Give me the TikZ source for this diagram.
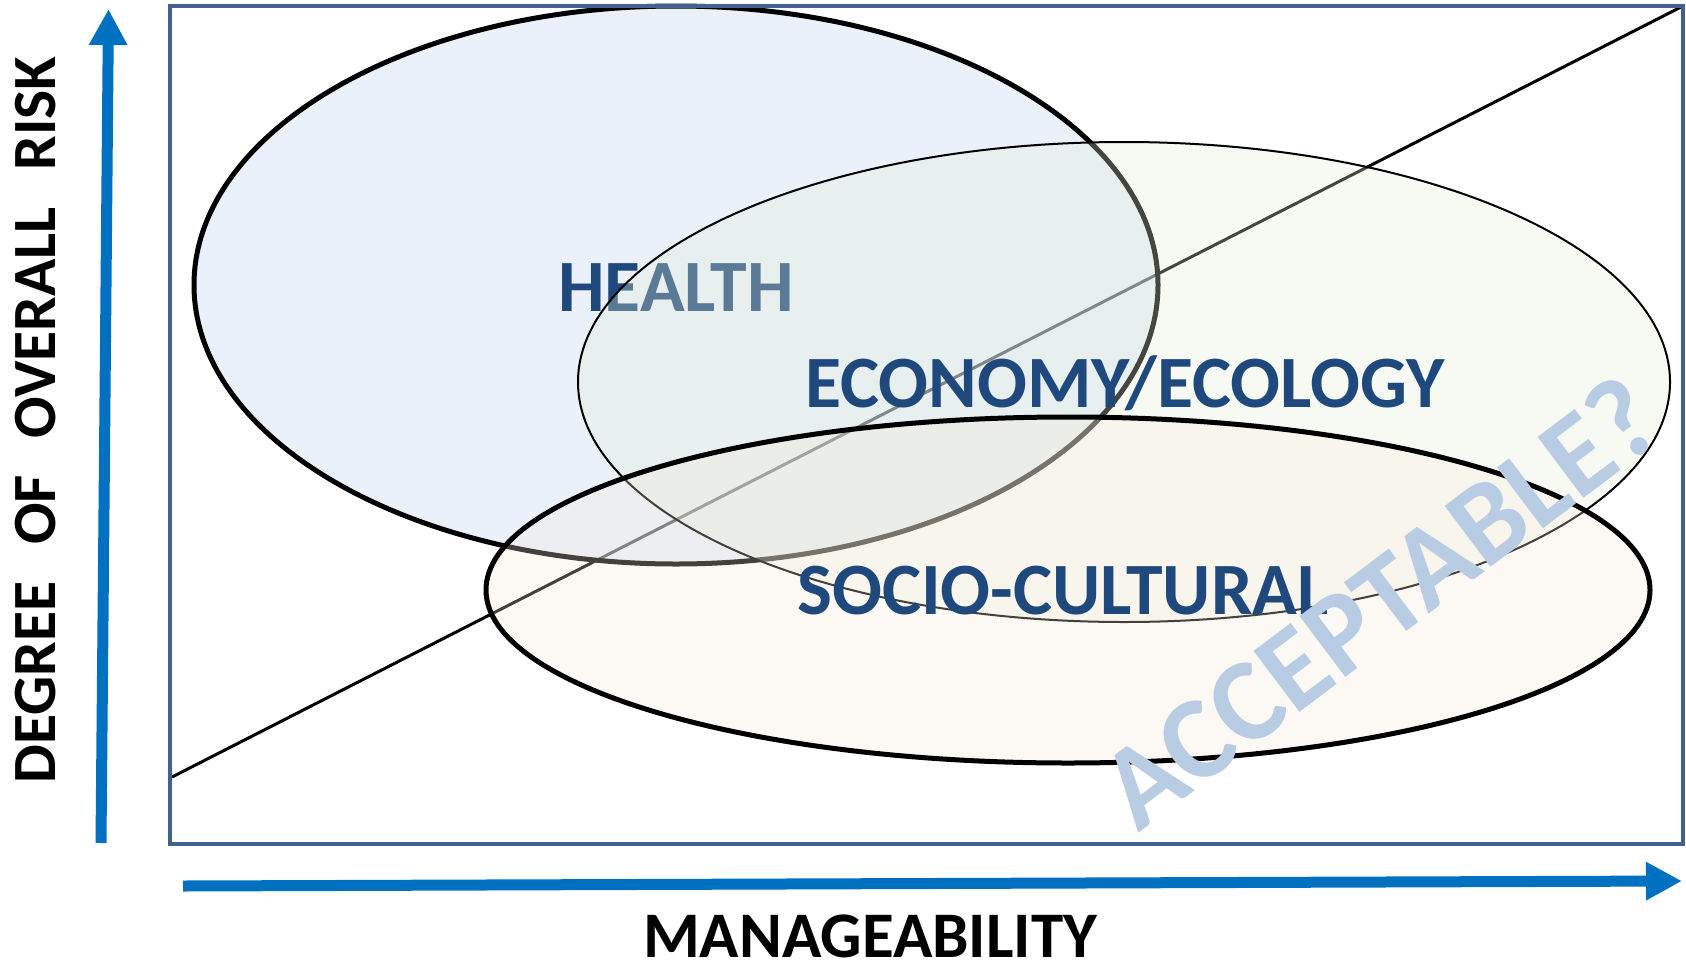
\documentclass[tikz,border=0pt]{standalone}
\usepackage{fontspec}
\setmainfont{Carlito}
\usepackage{tikz}
\usetikzlibrary{arrows.meta}
\definecolor{riskblue}{RGB}{0,112,192}
\definecolor{framecol}{RGB}{63,98,143}
\definecolor{labelblue}{RGB}{31,73,125}
\definecolor{acceptcol}{RGB}{184,204,228}
\definecolor{healthfill}{RGB}{205,222,243}
\definecolor{ecofill}{RGB}{228,238,215}
\definecolor{sociofill}{RGB}{246,232,218}
\tikzset{
	axisarrow/.style={line width=1.1mm, color=riskblue, -{Triangle[length=3.6mm,width=3.6mm]}},
	region/.style={font=\bfseries\fontsize{21}{25}\selectfont, text=labelblue, inner sep=0pt}
}
\begin{document}
\begin{tikzpicture}
		%%%%% START %%%%%
		\useasboundingbox (0, 0) rectangle (16.86, 9.66);
		
		% diagonal first, the regions lie over it
		\draw[line width=0.3mm, color=black] (1.72, 1.89) -- (16.81, 9.59);
		
		\draw[line width=0.5mm, fill=healthfill, fill opacity=0.42] (6.76, 6.81) ellipse (4.82 and 2.79);
		\node[region] (health) at (6.76, 6.78) {HEALTH};
		
		\draw[line width=0.2mm, fill=ecofill, fill opacity=0.3] (11.24, 5.84) ellipse (5.46 and 2.40);
		\draw[line width=0.5mm, fill=sociofill, fill opacity=0.28] (10.68, 3.76) ellipse (5.82 and 1.73);
		
		\node[region] (economy) at (11.25, 5.83) {ECONOMY/ECOLOGY};
		\node[region] (socio) at (10.63, 3.75) {SOCIO-CULTURAL};
		
		\node[rotate=37, text=acceptcol, font=\bfseries\fontsize{33.5}{38}\selectfont, inner sep=0pt] (accept) at (13.79, 3.64) {ACCEPTABLE?};
		
		\draw[line width=0.4mm, color=framecol] (1.70, 1.22) rectangle (16.83, 9.595);
		
		% axes
		\coordinate (ylow) at (1.01, 1.23);
		\coordinate (yhigh) at (1.085, 9.57);
		\coordinate (xlow) at (1.83, 0.80);
		\coordinate (xhigh) at (16.82, 0.85);
		\draw[axisarrow] (ylow) -- (yhigh);
		\draw[axisarrow] (xlow) -- (xhigh);
		
		\node[rotate=90, font=\bfseries\fontsize{17.5}{20}\selectfont, inner sep=0pt] (risk) at (0.355, 5.46) {DEGREE\hspace{0.6em}OF\hspace{0.6em}OVERALL\hspace{0.6em}RISK};
		\node[font=\bfseries\fontsize{18.5}{22}\selectfont, inner sep=0pt] (manage) at (8.70, 0.30) {MANAGEABILITY};
		
		%%%%% END %%%%%
	\end{tikzpicture}
\end{document}
